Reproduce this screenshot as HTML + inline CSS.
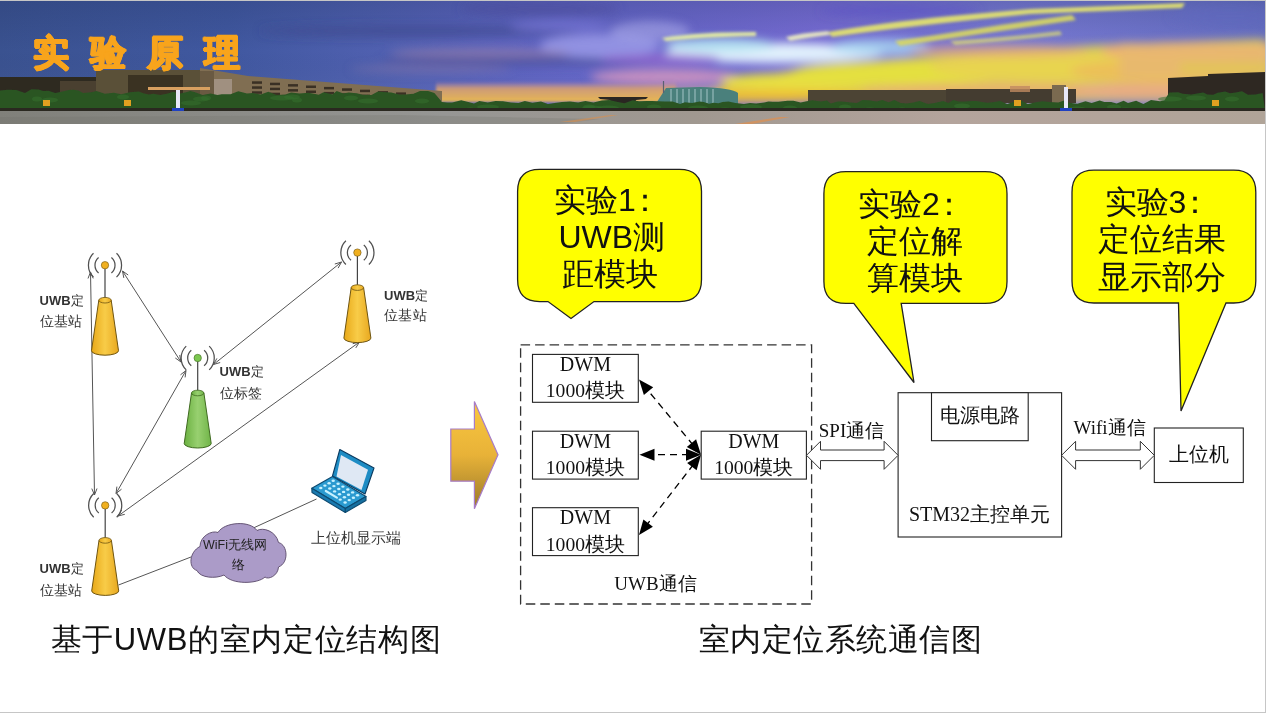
<!DOCTYPE html>
<html><head><meta charset="utf-8">
<style>
html,body{margin:0;padding:0;background:#c6c6c6;}
body{width:1266px;height:713px;overflow:hidden;position:relative;font-family:"Liberation Sans",sans-serif;}
#slide{position:absolute;left:0;top:1px;width:1265px;height:711px;background:#fff;overflow:hidden;}
.t{position:absolute;white-space:nowrap;line-height:1;}
</style></head><body>
<div id="slide">
<svg width="1265" height="123" style="position:absolute;left:0;top:0">
<defs>
<linearGradient id="sky" x1="0" y1="0" x2="1265" y2="0" gradientUnits="userSpaceOnUse">
<stop offset="0" stop-color="#3a5290"/>
<stop offset="0.18" stop-color="#4058a0"/>
<stop offset="0.3" stop-color="#5060b0"/>
<stop offset="0.45" stop-color="#6466c8"/>
<stop offset="0.65" stop-color="#7a6ed8"/>
<stop offset="0.8" stop-color="#7c7cd8"/>
<stop offset="1" stop-color="#6a72c8"/>
</linearGradient>
<linearGradient id="skyv" x1="0" y1="0" x2="0" y2="1">
<stop offset="0" stop-color="#203060" stop-opacity="0.25"/>
<stop offset="0.5" stop-color="#203060" stop-opacity="0"/>
<stop offset="1" stop-color="#8090c0" stop-opacity="0.15"/>
</linearGradient>
<filter id="bl" x="-30%" y="-100%" width="160%" height="300%"><feGaussianBlur stdDeviation="5"/></filter>
<filter id="bl2" x="-20%" y="-100%" width="140%" height="300%"><feGaussianBlur stdDeviation="1.8"/></filter>
<filter id="bl1" x="-5%" y="-50%" width="110%" height="200%"><feGaussianBlur stdDeviation="0.7"/></filter>
<linearGradient id="glow" x1="0" y1="0" x2="0" y2="1">
<stop offset="0" stop-color="#c890a8" stop-opacity="0"/>
<stop offset="0.35" stop-color="#d8a070" stop-opacity="0.9"/>
<stop offset="1" stop-color="#e8b850"/>
</linearGradient>
<linearGradient id="ground" x1="0" y1="0" x2="1265" y2="0" gradientUnits="userSpaceOnUse">
<stop offset="0" stop-color="#80807a"/>
<stop offset="0.35" stop-color="#969694"/>
<stop offset="0.55" stop-color="#a09890"/>
<stop offset="0.75" stop-color="#b4a49c"/>
<stop offset="1" stop-color="#b0a498"/>
</linearGradient>
</defs>
<rect x="0" y="0" width="1265" height="123" fill="url(#sky)"/>
<rect x="0" y="0" width="1265" height="100" fill="url(#skyv)"/>
<g filter="url(#bl)">
<!-- dark streaks -->
<ellipse cx="420" cy="30" rx="160" ry="5" fill="#40488e" opacity="0.7"/>
<ellipse cx="520" cy="60" rx="140" ry="5" fill="#484e98" opacity="0.7"/>
<ellipse cx="900" cy="10" rx="80" ry="5" fill="#5a50c8" opacity="0.6"/>
<ellipse cx="540" cy="8" rx="80" ry="7" fill="#4a4a9a" opacity="0.5"/>
<ellipse cx="1230" cy="15" rx="60" ry="10" fill="#6068c0" opacity="0.5"/>
<!-- lavender light streaks -->
<ellipse cx="600" cy="45" rx="60" ry="12" fill="#9c9ce8" opacity="0.8"/>
<ellipse cx="560" cy="25" rx="50" ry="6" fill="#7a78d8" opacity="0.6"/>
<ellipse cx="480" cy="52" rx="90" ry="5" fill="#9a80a8" opacity="0.6"/>
<ellipse cx="430" cy="68" rx="80" ry="4" fill="#8a78a8" opacity="0.5"/>
<ellipse cx="650" cy="30" rx="40" ry="10" fill="#a8a8e8" opacity="0.6"/>
<!-- light cyan band -->
<ellipse cx="775" cy="52" rx="110" ry="10" fill="#e0f0fc" opacity="1"/>
<ellipse cx="720" cy="44" rx="55" ry="7" fill="#b0e0f0" opacity="0.9"/>
<ellipse cx="880" cy="46" rx="50" ry="8" fill="#a8d8f0" opacity="0.8"/>
<!-- purple streaks -->
<ellipse cx="660" cy="58" rx="60" ry="5" fill="#9868d0" opacity="0.8"/>
<ellipse cx="665" cy="76" rx="75" ry="8" fill="#c890c0" opacity="0.95"/>
<!-- yellow sunset -->
<path d="M700,92 Q760,72 830,64 Q950,52 1100,44 Q1200,40 1265,38 L1265,100 L700,100 Z" fill="#e6d448" opacity="0.9"/>
<ellipse cx="800" cy="80" rx="80" ry="8" fill="#e8e040" opacity="1"/>
<ellipse cx="900" cy="72" rx="110" ry="12" fill="#e4e040" opacity="1"/>
<ellipse cx="1050" cy="66" rx="120" ry="14" fill="#e8d450" opacity="1"/>
<ellipse cx="1190" cy="50" rx="90" ry="9" fill="#f0a878" opacity="0.9"/>
<ellipse cx="1170" cy="70" rx="100" ry="12" fill="#ecc058" opacity="1"/>
<ellipse cx="1000" cy="50" rx="90" ry="6" fill="#e8a878" opacity="0.7"/>

<ellipse cx="760" cy="95" rx="120" ry="6" fill="#f0c030" opacity="1"/>
<ellipse cx="1000" cy="90" rx="140" ry="8" fill="#e8b070" opacity="0.9"/>
<ellipse cx="1150" cy="90" rx="80" ry="8" fill="#e8a888" opacity="0.9"/>
<rect x="1120" y="42" width="170" height="35" fill="#e8b870" opacity="0.9"/>
<rect x="1180" y="62" width="110" height="10" fill="#e0c850" opacity="0.8"/>
</g>
<g filter="url(#bl2)">
<path d="M662,37 Q700,31 756,31 L756,35 Q700,36 666,40 Z" fill="#e8f0a0" opacity="0.95"/>
<path d="M786,36 Q800,32 828,30 L830,34 Q805,37 790,40 Z" fill="#f0f0c0" opacity="0.9"/>
<path d="M828,31 Q880,22 950,15 L1030,8 L1185,2 L1182,7 L1030,13 Q900,26 832,36 Z" fill="#e0e070" opacity="0.95"/>
<path d="M895,40 Q950,32 1000,24 L1072,14 L1076,19 Q1000,30 900,45 Z" fill="#d8d860" opacity="0.9"/>
<path d="M950,40 Q1010,36 1060,30 L1062,34 Q1010,40 955,44 Z" fill="#e0e070" opacity="0.7"/>
</g>

<rect x="436" y="80" width="240" height="21" fill="url(#glow)" filter="url(#bl2)"/>
<path d="M0,76 L96,76 L96,108 L0,108 Z" fill="#2e2a20"/>
<path d="M60,80 L96,80 L96,96 L60,96 Z" fill="#4a4030"/>
<path d="M96,69 L200,69 L200,67 L248,75 L442,90 L442,100 L96,100 Z" fill="#806e52"/>
<rect x="96" y="69" width="104" height="28" fill="#5a5038"/>
<rect x="128" y="74" width="55" height="20" fill="#3a3222"/>
<rect x="210" y="78" width="22" height="18" fill="#a09080"/>
<rect x="200" y="70" width="14" height="28" fill="#6a5a42"/>
<rect x="252" y="80.3" width="10" height="2.5" fill="#3a3024"/>
<rect x="270" y="81.7" width="10" height="2.5" fill="#3a3024"/>
<rect x="288" y="83.1" width="10" height="2.5" fill="#3a3024"/>
<rect x="306" y="84.5" width="10" height="2.5" fill="#3a3024"/>
<rect x="324" y="85.9" width="10" height="2.5" fill="#3a3024"/>
<rect x="342" y="87.3" width="10" height="2.5" fill="#3a3024"/>
<rect x="360" y="88.7" width="10" height="2.5" fill="#3a3024"/>
<rect x="378" y="90.1" width="10" height="2.5" fill="#3a3024"/>
<rect x="396" y="91.4" width="10" height="2.5" fill="#3a3024"/>
<rect x="414" y="92.8" width="10" height="2.5" fill="#3a3024"/>
<rect x="252" y="85.3" width="10" height="2.5" fill="#3a3024"/>
<rect x="270" y="86.7" width="10" height="2.5" fill="#3a3024"/>
<rect x="288" y="88.1" width="10" height="2.5" fill="#3a3024"/>
<rect x="306" y="89.5" width="10" height="2.5" fill="#3a3024"/>
<rect x="324" y="90.9" width="10" height="2.5" fill="#3a3024"/>
<rect x="342" y="92.3" width="10" height="2.5" fill="#3a3024"/>
<rect x="360" y="93.7" width="10" height="2.5" fill="#3a3024"/>
<rect x="378" y="95.1" width="10" height="2.5" fill="#3a3024"/>
<rect x="396" y="96.4" width="10" height="2.5" fill="#3a3024"/>
<rect x="414" y="97.8" width="10" height="2.5" fill="#3a3024"/>
<rect x="252" y="90.3" width="10" height="2.5" fill="#3a3024"/>
<rect x="270" y="91.7" width="10" height="2.5" fill="#3a3024"/>
<rect x="288" y="93.1" width="10" height="2.5" fill="#3a3024"/>
<rect x="306" y="94.5" width="10" height="2.5" fill="#3a3024"/>
<rect x="324" y="95.9" width="10" height="2.5" fill="#3a3024"/>
<rect x="342" y="97.3" width="10" height="2.5" fill="#3a3024"/>
<rect x="360" y="98.7" width="10" height="2.5" fill="#3a3024"/>
<rect x="378" y="100.1" width="10" height="2.5" fill="#3a3024"/>
<rect x="396" y="101.4" width="10" height="2.5" fill="#3a3024"/>
<rect x="414" y="102.8" width="10" height="2.5" fill="#3a3024"/>
<path d="M598,96 L648,96 L646,98 L636,99 L634,106 L612,106 L610,99 L600,98 Z" fill="#2a2622"/>
<path d="M655,104 L666,87 L700,86 Q732,87 738,92 L738,104 Z" fill="#4a807c"/>
<rect x="670" y="88" width="2" height="14" fill="#8ab0b0" opacity="0.7"/>
<rect x="676" y="88" width="2" height="14" fill="#8ab0b0" opacity="0.7"/>
<rect x="682" y="88" width="2" height="14" fill="#8ab0b0" opacity="0.7"/>
<rect x="688" y="88" width="2" height="14" fill="#8ab0b0" opacity="0.7"/>
<rect x="694" y="88" width="2" height="14" fill="#8ab0b0" opacity="0.7"/>
<rect x="700" y="88" width="2" height="14" fill="#8ab0b0" opacity="0.7"/>
<rect x="706" y="88" width="2" height="14" fill="#8ab0b0" opacity="0.7"/>
<rect x="712" y="88" width="2" height="14" fill="#8ab0b0" opacity="0.7"/>
<line x1="663.5" y1="80" x2="663.5" y2="92" stroke="#5a6070" stroke-width="1.2"/>
<rect x="808" y="89" width="140" height="14" fill="#4c4434"/>
<rect x="946" y="88" width="130" height="14" fill="#443c30"/>
<rect x="1052" y="84" width="14" height="18" fill="#7a6a50"/>
<rect x="1010" y="85" width="20" height="6" fill="#c08a60" opacity="0.8"/>
<path d="M1168,77 L1208,75 L1208,73 L1265,71 L1265,108 L1168,108 Z" fill="#2e2822"/>
<path d="M0,109 L0.0,89.5 L7.7,88.8 L16.4,89.0 L25.0,91.9 L31.4,88.2 L38.6,88.4 L43.2,90.1 L48.4,89.8 L55.3,91.9 L60.4,90.9 L68.9,88.9 L73.7,88.8 L78.4,89.5 L83.1,92.0 L91.4,91.2 L96.5,90.1 L104.9,92.8 L113.7,91.8 L121.1,93.2 L129.8,91.2 L138.6,90.4 L144.1,92.6 L148.9,93.4 L153.2,92.8 L160.3,94.0 L167.7,92.6 L173.2,90.7 L179.6,92.7 L186.0,91.2 L190.3,90.1 L194.4,91.0 L202.6,93.9 L210.6,92.5 L217.5,94.0 L221.7,93.3 L230.5,93.2 L238.3,90.3 L247.0,92.6 L252.7,91.9 L260.6,93.6 L268.4,90.8 L276.7,93.9 L285.4,93.6 L291.1,91.6 L299.7,92.6 L308.3,91.8 L313.9,92.7 L318.7,93.7 L323.5,91.2 L332.5,93.4 L336.7,90.1 L343.4,92.4 L348.6,91.6 L356.7,92.2 L362.8,93.8 L371.4,93.9 L377.9,90.6 L382.5,91.1 L391.3,91.5 L399.2,93.6 L405.4,93.4 L413.6,92.8 L419.9,90.0 L428.1,90.1 L434.4,92.0 L442.0,101.1 L447.5,101.4 L452.2,101.5 L461.2,99.2 L468.3,101.0 L474.0,102.6 L479.4,99.9 L487.7,101.6 L495.6,99.9 L503.1,100.3 L510.9,101.5 L518.4,101.9 L524.9,99.9 L532.3,101.8 L541.0,100.4 L547.9,103.0 L554.7,102.0 L562.0,101.1 L570.1,100.4 L578.1,101.6 L585.3,100.0 L593.5,101.6 L601.7,99.5 L609.1,99.1 L617.9,100.9 L624.5,102.3 L632.7,99.3 L639.1,100.2 L646.7,100.1 L651.6,99.9 L658.5,100.3 L664.6,100.5 L672.5,100.5 L680.1,102.9 L684.9,101.2 L692.1,102.1 L699.5,100.5 L703.7,101.1 L708.9,102.8 L713.5,101.7 L718.5,102.2 L722.6,101.1 L728.5,100.6 L735.5,102.0 L744.0,103.0 L750.0,101.9 L756.1,102.5 L764.2,101.5 L768.4,100.5 L772.9,100.8 L778.6,100.7 L787.4,99.7 L793.5,99.7 L800.7,101.5 L805.4,100.6 L812.2,99.2 L821.1,100.6 L826.8,99.4 L830.8,102.6 L837.6,100.5 L842.3,100.5 L850.8,101.5 L857.0,102.1 L862.4,99.1 L868.3,99.2 L876.9,100.6 L882.2,99.1 L888.7,101.3 L894.3,99.1 L900.7,101.9 L907.1,102.5 L914.2,101.2 L919.7,99.9 L927.8,102.9 L934.5,101.9 L943.2,99.9 L948.4,101.9 L953.2,99.0 L958.6,100.6 L965.0,100.4 L972.0,100.0 L976.6,100.0 L982.1,100.9 L987.8,101.8 L994.4,101.1 L1000.2,100.0 L1007.2,102.9 L1012.5,101.2 L1021.0,99.4 L1027.8,102.9 L1035.7,101.3 L1042.5,100.2 L1049.7,101.1 L1058.3,101.5 L1064.2,99.6 L1069.2,101.8 L1077.4,102.7 L1085.5,100.2 L1091.7,101.9 L1099.6,99.4 L1104.3,101.1 L1111.1,101.0 L1116.7,102.4 L1123.6,99.8 L1128.0,102.1 L1136.1,99.8 L1143.4,102.9 L1151.0,99.1 L1160.0,100.2 L1164.3,99.6 L1169.3,91.4 L1178.1,91.2 L1182.8,92.8 L1191.4,93.4 L1198.4,92.3 L1203.2,91.5 L1207.4,93.6 L1213.3,93.7 L1217.6,91.7 L1225.3,90.5 L1230.0,92.3 L1235.6,91.6 L1242.0,90.2 L1247.9,93.8 L1255.4,93.4 L1262.6,92.0 L1265,109 Z" fill="#2a5424" filter="url(#bl1)"/>
<ellipse cx="702" cy="109" rx="7" ry="2.5" fill="#35702e" opacity="0.55" filter="url(#bl1)"/>
<ellipse cx="698" cy="107" rx="10" ry="2.5" fill="#35702e" opacity="0.55" filter="url(#bl1)"/>
<ellipse cx="654" cy="106" rx="7" ry="2.5" fill="#35702e" opacity="0.55" filter="url(#bl1)"/>
<ellipse cx="470" cy="109" rx="6" ry="2.5" fill="#35702e" opacity="0.55" filter="url(#bl1)"/>
<ellipse cx="902" cy="109" rx="6" ry="2.5" fill="#35702e" opacity="0.55" filter="url(#bl1)"/>
<ellipse cx="845" cy="106" rx="6" ry="2.5" fill="#35702e" opacity="0.55" filter="url(#bl1)"/>
<ellipse cx="751" cy="106" rx="11" ry="2.5" fill="#35702e" opacity="0.55" filter="url(#bl1)"/>
<ellipse cx="608" cy="107" rx="11" ry="2.5" fill="#35702e" opacity="0.55" filter="url(#bl1)"/>
<ellipse cx="37" cy="98" rx="5" ry="2.5" fill="#35702e" opacity="0.55" filter="url(#bl1)"/>
<ellipse cx="191" cy="102" rx="10" ry="2.5" fill="#35702e" opacity="0.55" filter="url(#bl1)"/>
<ellipse cx="282" cy="97" rx="12" ry="2.5" fill="#35702e" opacity="0.55" filter="url(#bl1)"/>
<ellipse cx="841" cy="110" rx="6" ry="2.5" fill="#35702e" opacity="0.55" filter="url(#bl1)"/>
<ellipse cx="790" cy="107" rx="7" ry="2.5" fill="#35702e" opacity="0.55" filter="url(#bl1)"/>
<ellipse cx="422" cy="100" rx="7" ry="2.5" fill="#35702e" opacity="0.55" filter="url(#bl1)"/>
<ellipse cx="488" cy="106" rx="11" ry="2.5" fill="#35702e" opacity="0.55" filter="url(#bl1)"/>
<ellipse cx="820" cy="110" rx="8" ry="2.5" fill="#35702e" opacity="0.55" filter="url(#bl1)"/>
<ellipse cx="1077" cy="108" rx="9" ry="2.5" fill="#35702e" opacity="0.55" filter="url(#bl1)"/>
<ellipse cx="725" cy="109" rx="8" ry="2.5" fill="#35702e" opacity="0.55" filter="url(#bl1)"/>
<ellipse cx="123" cy="96" rx="6" ry="2.5" fill="#35702e" opacity="0.55" filter="url(#bl1)"/>
<ellipse cx="50" cy="99" rx="8" ry="2.5" fill="#35702e" opacity="0.55" filter="url(#bl1)"/>
<ellipse cx="962" cy="105" rx="8" ry="2.5" fill="#35702e" opacity="0.55" filter="url(#bl1)"/>
<ellipse cx="1126" cy="109" rx="8" ry="2.5" fill="#35702e" opacity="0.55" filter="url(#bl1)"/>
<ellipse cx="589" cy="106" rx="6" ry="2.5" fill="#35702e" opacity="0.55" filter="url(#bl1)"/>
<ellipse cx="201" cy="98" rx="8" ry="2.5" fill="#35702e" opacity="0.55" filter="url(#bl1)"/>
<ellipse cx="1114" cy="106" rx="7" ry="2.5" fill="#35702e" opacity="0.55" filter="url(#bl1)"/>
<ellipse cx="351" cy="97" rx="7" ry="2.5" fill="#35702e" opacity="0.55" filter="url(#bl1)"/>
<ellipse cx="297" cy="99" rx="5" ry="2.5" fill="#35702e" opacity="0.55" filter="url(#bl1)"/>
<ellipse cx="1170" cy="98" rx="12" ry="2.5" fill="#35702e" opacity="0.55" filter="url(#bl1)"/>
<ellipse cx="870" cy="109" rx="8" ry="2.5" fill="#35702e" opacity="0.55" filter="url(#bl1)"/>
<ellipse cx="1196" cy="97" rx="10" ry="2.5" fill="#35702e" opacity="0.55" filter="url(#bl1)"/>
<ellipse cx="368" cy="100" rx="10" ry="2.5" fill="#35702e" opacity="0.55" filter="url(#bl1)"/>
<ellipse cx="206" cy="97" rx="5" ry="2.5" fill="#35702e" opacity="0.55" filter="url(#bl1)"/>
<ellipse cx="292" cy="96" rx="8" ry="2.5" fill="#35702e" opacity="0.55" filter="url(#bl1)"/>
<ellipse cx="1232" cy="98" rx="7" ry="2.5" fill="#35702e" opacity="0.55" filter="url(#bl1)"/>
<ellipse cx="592" cy="107" rx="10" ry="2.5" fill="#35702e" opacity="0.55" filter="url(#bl1)"/>
<rect x="0" y="107" width="1265" height="3" fill="#2a2820"/>
<rect x="0" y="110" width="1265" height="13" fill="url(#ground)"/>
<path d="M0,116 L400,114 L600,118 L560,123 L0,123 Z" fill="#707068" opacity="0.25" filter="url(#bl1)"/>
<path d="M735,123 L780,116 L790,116 L752,123 Z" fill="#e09050" opacity="0.7" filter="url(#bl1)"/>
<path d="M560,121 L610,114 L618,114 L575,121 Z" fill="#d89050" opacity="0.6" filter="url(#bl1)"/>
<rect x="176" y="88" width="4" height="19" fill="#e8e8f8"/><rect x="172" y="107" width="12" height="3" fill="#2040c0"/>
<rect x="148" y="86" width="62" height="3" fill="#d8a060"/>
<rect x="1064" y="86" width="4" height="21" fill="#e8e8f8"/><rect x="1060" y="107" width="12" height="3" fill="#2040c0"/>
<rect x="43" y="99" width="7" height="6" fill="#e0a020"/>
<rect x="124" y="99" width="7" height="6" fill="#e0a020"/>
<rect x="1014" y="99" width="7" height="6" fill="#e0a020"/>
<rect x="1212" y="99" width="7" height="6" fill="#e0a020"/>
</svg>
<div class="t" style="left:33px;top:34px;font-size:36px;font-weight:bold;color:#f8a41c;letter-spacing:21px;text-shadow:0.7px 0 #f8a41c,-0.7px 0 #f8a41c,0 0.7px #f8a41c,0 -0.7px #f8a41c,0.5px 0.5px #f8a41c,-0.5px -0.5px #f8a41c,0.5px -0.5px #f8a41c,-0.5px 0.5px #f8a41c">实验原理</div>
<svg width="1265" height="711" viewBox="0 1 1265 711" style="position:absolute;left:0;top:0">
<defs>
<linearGradient id="gy" x1="0" y1="0" x2="1" y2="0"><stop offset="0" stop-color="#e8a818"/><stop offset="0.5" stop-color="#f8cc48"/><stop offset="1" stop-color="#e8a820"/></linearGradient>
<linearGradient id="gg" x1="0" y1="0" x2="1" y2="0"><stop offset="0" stop-color="#6ab040"/><stop offset="0.5" stop-color="#98d070"/><stop offset="1" stop-color="#70b448"/></linearGradient>
<linearGradient id="garr" x1="0" y1="0" x2="0" y2="1"><stop offset="0" stop-color="#fac840"/><stop offset="0.5" stop-color="#e8b238"/><stop offset="1" stop-color="#9a7a2a"/></linearGradient>
</defs>
<line x1="90.5" y1="272" x2="94.5" y2="495" stroke="#555" stroke-width="1"/>
<path d="M88.0,278.5 L90.5,272 L93.2,278.4" fill="none" stroke="#555" stroke-width="1"/>
<path d="M97.0,488.5 L94.5,495 L91.8,488.6" fill="none" stroke="#555" stroke-width="1"/>
<line x1="122.5" y1="271" x2="181" y2="362" stroke="#555" stroke-width="1"/>
<path d="M123.8,277.9 L122.5,271 L128.2,275.0" fill="none" stroke="#555" stroke-width="1"/>
<path d="M179.7,355.1 L181,362 L175.3,358.0" fill="none" stroke="#555" stroke-width="1"/>
<line x1="213.5" y1="364.5" x2="341.5" y2="262" stroke="#555" stroke-width="1"/>
<path d="M220.2,362.5 L213.5,364.5 L216.9,358.4" fill="none" stroke="#555" stroke-width="1"/>
<path d="M334.8,264.0 L341.5,262 L338.1,268.1" fill="none" stroke="#555" stroke-width="1"/>
<line x1="186" y1="370.5" x2="116" y2="493.5" stroke="#555" stroke-width="1"/>
<path d="M180.5,374.8 L186,370.5 L185.1,377.4" fill="none" stroke="#555" stroke-width="1"/>
<path d="M121.5,489.2 L116,493.5 L116.9,486.6" fill="none" stroke="#555" stroke-width="1"/>
<line x1="359.5" y1="342" x2="118" y2="516" stroke="#555" stroke-width="1"/>
<path d="M352.7,343.7 L359.5,342 L355.8,347.9" fill="none" stroke="#555" stroke-width="1"/>
<path d="M124.8,514.3 L118,516 L121.7,510.1" fill="none" stroke="#555" stroke-width="1"/>
<line x1="118.5" y1="585" x2="191" y2="557" stroke="#555" stroke-width="1"/>
<line x1="249" y1="530" x2="316.5" y2="499" stroke="#555" stroke-width="1"/>
<path d="M98.6,257.5 A10,10 0 0 0 98.6,272.9 M111.4,257.5 A10,10 0 0 1 111.4,272.9" fill="none" stroke="#505050" stroke-width="1.25"/>
<path d="M93.5,253.3 A16.5,16.5 0 0 0 93.5,277.1 M116.5,253.3 A16.5,16.5 0 0 1 116.5,277.1" fill="none" stroke="#505050" stroke-width="1.25"/>
<line x1="105" y1="268.2" x2="105" y2="300.2" stroke="#444" stroke-width="1.2"/>
<path d="M98.8,300.2 L91.5,350.7 A13.5,4.5 0 0 0 118.5,350.7 L111.2,300.2 Z" fill="url(#gy)" stroke="#6e5410" stroke-width="1"/>
<ellipse cx="105" cy="300.2" rx="6.2" ry="2.8" fill="url(#gy)" stroke="#6e5410" stroke-width="0.8"/>
<circle cx="105" cy="265.2" r="3.7" fill="#f0b020" stroke="#6e5410" stroke-width="0.6"/>
<path d="M351.0,244.9 A10,10 0 0 0 351.0,260.3 M363.8,244.9 A10,10 0 0 1 363.8,260.3" fill="none" stroke="#505050" stroke-width="1.25"/>
<path d="M345.9,240.7 A16.5,16.5 0 0 0 345.9,264.5 M368.9,240.7 A16.5,16.5 0 0 1 368.9,264.5" fill="none" stroke="#505050" stroke-width="1.25"/>
<line x1="357.4" y1="255.6" x2="357.4" y2="287.6" stroke="#444" stroke-width="1.2"/>
<path d="M351.2,287.6 L343.9,338.1 A13.5,4.5 0 0 0 370.9,338.1 L363.59999999999997,287.6 Z" fill="url(#gy)" stroke="#6e5410" stroke-width="1"/>
<ellipse cx="357.4" cy="287.6" rx="6.2" ry="2.8" fill="url(#gy)" stroke="#6e5410" stroke-width="0.8"/>
<circle cx="357.4" cy="252.6" r="3.7" fill="#f0b020" stroke="#6e5410" stroke-width="0.6"/>
<path d="M191.3,350.3 A10,10 0 0 0 191.3,365.7 M204.1,350.3 A10,10 0 0 1 204.1,365.7" fill="none" stroke="#505050" stroke-width="1.25"/>
<path d="M186.2,346.1 A16.5,16.5 0 0 0 186.2,369.9 M209.2,346.1 A16.5,16.5 0 0 1 209.2,369.9" fill="none" stroke="#505050" stroke-width="1.25"/>
<line x1="197.7" y1="361" x2="197.7" y2="393" stroke="#444" stroke-width="1.2"/>
<path d="M191.5,393 L184.2,443.5 A13.5,4.5 0 0 0 211.2,443.5 L203.89999999999998,393 Z" fill="url(#gg)" stroke="#3f6a20" stroke-width="1"/>
<ellipse cx="197.7" cy="393" rx="6.2" ry="2.8" fill="url(#gg)" stroke="#3f6a20" stroke-width="0.8"/>
<circle cx="197.7" cy="358" r="3.7" fill="#7cc850" stroke="#3f6a20" stroke-width="0.6"/>
<path d="M98.8,497.7 A10,10 0 0 0 98.8,513.1 M111.6,497.7 A10,10 0 0 1 111.6,513.1" fill="none" stroke="#505050" stroke-width="1.25"/>
<path d="M93.7,493.5 A16.5,16.5 0 0 0 93.7,517.3 M116.7,493.5 A16.5,16.5 0 0 1 116.7,517.3" fill="none" stroke="#505050" stroke-width="1.25"/>
<line x1="105.2" y1="508.4" x2="105.2" y2="540.4" stroke="#444" stroke-width="1.2"/>
<path d="M99.0,540.4 L91.7,590.9 A13.5,4.5 0 0 0 118.7,590.9 L111.4,540.4 Z" fill="url(#gy)" stroke="#6e5410" stroke-width="1"/>
<ellipse cx="105.2" cy="540.4" rx="6.2" ry="2.8" fill="url(#gy)" stroke="#6e5410" stroke-width="0.8"/>
<circle cx="105.2" cy="505.4" r="3.7" fill="#f0b020" stroke="#6e5410" stroke-width="0.6"/>
<path d="M197,570.5 C188,568 189,552 200,546.5 C200,536 212,530 218,532.5 C224,522 250,520 257,530.5 C263,527 276,531 278.5,542.5 C288,545 289,563 278.5,567 C278,576 268,580 265,577 C258,584 232,585 224,575 C216,579 200,578 197,570.5 Z" fill="#ab9bc8" stroke="#5a4a6a" stroke-width="0.9"/>
<g stroke="#0d4a70" stroke-width="1.1" stroke-linejoin="round">
<path d="M339.8,449.5 L374,468 L365,494 L332.5,476 Z" fill="#1e8cc4" stroke="#0a3a60"/>
<path d="M341,455 L368,469.7 L361.5,490 L336.5,476.5 Z" fill="#dfe8f4" stroke="none"/>
<path d="M311.8,488.3 L332.5,476.5 L366,496.5 L345.3,508.5 Z" fill="#2a9ad0"/>
<path d="M311.8,488.3 L345.3,508.5 L345.3,512.5 L312,492.5 Z" fill="#1a7ab0"/>
<path d="M345.3,508.5 L366,496.5 L366,500.5 L345.3,512.5 Z" fill="#1670a0"/>
</g>
<ellipse cx="333.2" cy="480.8" rx="1.7" ry="1.2" fill="#c8f2ff"/>
<ellipse cx="338.1" cy="483.7" rx="1.7" ry="1.2" fill="#c8f2ff"/>
<ellipse cx="342.9" cy="486.6" rx="1.7" ry="1.2" fill="#c8f2ff"/>
<ellipse cx="347.8" cy="489.5" rx="1.7" ry="1.2" fill="#c8f2ff"/>
<ellipse cx="352.6" cy="492.4" rx="1.7" ry="1.2" fill="#c8f2ff"/>
<ellipse cx="357.5" cy="495.3" rx="1.7" ry="1.2" fill="#c8f2ff"/>
<ellipse cx="329.1" cy="483.2" rx="1.7" ry="1.2" fill="#c8f2ff"/>
<ellipse cx="333.9" cy="486.1" rx="1.7" ry="1.2" fill="#c8f2ff"/>
<ellipse cx="338.8" cy="489.0" rx="1.7" ry="1.2" fill="#c8f2ff"/>
<ellipse cx="343.6" cy="491.9" rx="1.7" ry="1.2" fill="#c8f2ff"/>
<ellipse cx="348.5" cy="494.8" rx="1.7" ry="1.2" fill="#c8f2ff"/>
<ellipse cx="353.4" cy="497.7" rx="1.7" ry="1.2" fill="#c8f2ff"/>
<ellipse cx="324.9" cy="485.6" rx="1.7" ry="1.2" fill="#c8f2ff"/>
<ellipse cx="329.8" cy="488.5" rx="1.7" ry="1.2" fill="#c8f2ff"/>
<ellipse cx="334.6" cy="491.4" rx="1.7" ry="1.2" fill="#c8f2ff"/>
<ellipse cx="339.5" cy="494.3" rx="1.7" ry="1.2" fill="#c8f2ff"/>
<ellipse cx="344.4" cy="497.2" rx="1.7" ry="1.2" fill="#c8f2ff"/>
<ellipse cx="349.2" cy="500.1" rx="1.7" ry="1.2" fill="#c8f2ff"/>
<ellipse cx="320.8" cy="488.0" rx="1.7" ry="1.2" fill="#c8f2ff"/>
<ellipse cx="340.2" cy="499.6" rx="1.7" ry="1.2" fill="#c8f2ff"/>
<ellipse cx="345.1" cy="502.5" rx="1.7" ry="1.2" fill="#c8f2ff"/>
<line x1="325.8" y1="491.0" x2="336.9" y2="497.6" stroke="#c8f2ff" stroke-width="2.2" stroke-linecap="round"/>
<text x="39.5" y="304.5" font-family="Liberation Sans, sans-serif" font-size="13" fill="#333"><tspan font-weight="bold">UWB</tspan>定</text><text x="39.5" y="326" font-family="Liberation Sans, sans-serif" font-size="14.2" fill="#333" letter-spacing="0.4">位基站</text>
<text x="384" y="299.5" font-family="Liberation Sans, sans-serif" font-size="13" fill="#333"><tspan font-weight="bold">UWB</tspan>定</text><text x="384" y="320" font-family="Liberation Sans, sans-serif" font-size="14.2" fill="#333" letter-spacing="0.4">位基站</text>
<text x="219.5" y="375.5" font-family="Liberation Sans, sans-serif" font-size="13" fill="#333"><tspan font-weight="bold">UWB</tspan>定</text><text x="219.5" y="398" font-family="Liberation Sans, sans-serif" font-size="14.2" fill="#333" letter-spacing="0.4">位标签</text>
<text x="39.5" y="572.5" font-family="Liberation Sans, sans-serif" font-size="13" fill="#333"><tspan font-weight="bold">UWB</tspan>定</text><text x="39.5" y="595" font-family="Liberation Sans, sans-serif" font-size="14.2" fill="#333" letter-spacing="0.4">位基站</text>
<text x="311" y="542.5" font-family="Liberation Sans, sans-serif" font-size="15" fill="#3a3a3a">上位机显示端</text>
<text x="203" y="549" font-family="Liberation Sans, sans-serif" font-size="12.5" fill="#222">WiFi无线网</text><text x="232" y="569" font-family="Liberation Sans, sans-serif" font-size="12.5" fill="#222">络</text>
<path d="M450.8,429 L474.4,429 L474.4,401.6 L498,454.7 L474.4,508.7 L474.4,481.2 L450.8,481.2 Z" fill="url(#garr)" stroke="#a77cc8" stroke-width="1.2"/>
<rect x="520.6" y="344.8" width="291" height="259.2" fill="none" stroke="#333" stroke-width="1.3" stroke-dasharray="9.5,5"/>
<rect x="532.5" y="354.4" width="105.8" height="47.9" fill="#fff" stroke="#222" stroke-width="1.1"/>
<text x="585.4" y="370.9" font-family="Liberation Serif, serif" font-size="20" text-anchor="middle" fill="#111">DWM</text>
<text x="585.4" y="397.2" font-family="Liberation Serif, serif" font-size="19.6" text-anchor="middle" fill="#111">1000模块</text>
<rect x="532.5" y="431.2" width="105.8" height="47.9" fill="#fff" stroke="#222" stroke-width="1.1"/>
<text x="585.4" y="447.7" font-family="Liberation Serif, serif" font-size="20" text-anchor="middle" fill="#111">DWM</text>
<text x="585.4" y="474.0" font-family="Liberation Serif, serif" font-size="19.6" text-anchor="middle" fill="#111">1000模块</text>
<rect x="532.5" y="507.7" width="105.8" height="47.9" fill="#fff" stroke="#222" stroke-width="1.1"/>
<text x="585.4" y="524.2" font-family="Liberation Serif, serif" font-size="20" text-anchor="middle" fill="#111">DWM</text>
<text x="585.4" y="550.5" font-family="Liberation Serif, serif" font-size="19.6" text-anchor="middle" fill="#111">1000模块</text>
<rect x="701.2" y="431.2" width="105.2" height="47.9" fill="#fff" stroke="#222" stroke-width="1.1"/>
<text x="753.8000000000001" y="447.7" font-family="Liberation Serif, serif" font-size="20" text-anchor="middle" fill="#111">DWM</text>
<text x="753.8000000000001" y="474.0" font-family="Liberation Serif, serif" font-size="19.6" text-anchor="middle" fill="#111">1000模块</text>
<line x1="693.4" y1="445.4" x2="646.6" y2="388.8" stroke="#000" stroke-width="1.3" stroke-dasharray="7,5"/>
<path d="M701.0,454.7 L696.1,439.3 L686.8,446.9 Z" fill="#000"/>
<path d="M639.0,379.5 L643.9,394.9 L653.2,387.3 Z" fill="#000"/>
<line x1="689.0" y1="454.7" x2="651.5" y2="454.7" stroke="#000" stroke-width="1.3" stroke-dasharray="7,5"/>
<path d="M701.0,454.7 L686.0,448.7 L686.0,460.7 Z" fill="#000"/>
<path d="M639.5,454.7 L654.5,460.7 L654.5,448.7 Z" fill="#000"/>
<line x1="693.7" y1="464.2" x2="646.3" y2="525.5" stroke="#000" stroke-width="1.3" stroke-dasharray="7,5"/>
<path d="M701.0,454.7 L687.1,462.9 L696.6,470.2 Z" fill="#000"/>
<path d="M639.0,535.0 L652.9,526.8 L643.4,519.5 Z" fill="#000"/>
<text x="655.5" y="590" font-family="Liberation Serif, serif" font-size="19" text-anchor="middle" fill="#111">UWB通信</text>
<rect x="898.1" y="392.7" width="163.5" height="144.3" fill="#fff" stroke="#222" stroke-width="1.1"/>
<rect x="931.5" y="392.7" width="96.7" height="48" fill="#fff" stroke="#222" stroke-width="1.1"/>
<text x="979.8" y="422" font-family="Liberation Serif, serif" font-size="20" text-anchor="middle" fill="#111">电源电路</text>
<text x="979.5" y="521" font-family="Liberation Serif, serif" font-size="20" text-anchor="middle" fill="#111">STM32主控单元</text>
<rect x="1154.3" y="428" width="89" height="54.5" fill="#fff" stroke="#222" stroke-width="1.1"/>
<text x="1198.5" y="461" font-family="Liberation Serif, serif" font-size="20" text-anchor="middle" fill="#111">上位机</text>
<path d="M806.5,455.3 L820.5,441.3 L820.5,450.0 L884.1,450.0 L884.1,441.3 L898.1,455.3 L884.1,469.3 L884.1,460.6 L820.5,460.6 L820.5,469.3 Z" fill="#fff" stroke="#333" stroke-width="1"/>
<path d="M1061.6,455.3 L1075.6,441.3 L1075.6,450.0 L1140.3,450.0 L1140.3,441.3 L1154.3,455.3 L1140.3,469.3 L1140.3,460.6 L1075.6,460.6 L1075.6,469.3 Z" fill="#fff" stroke="#333" stroke-width="1"/>
<text x="851.5" y="437" font-family="Liberation Serif, serif" font-size="19" text-anchor="middle" fill="#111">SPI通信</text>
<text x="1109.5" y="434" font-family="Liberation Serif, serif" font-size="19" text-anchor="middle" fill="#111">Wifi通信</text>
<path d="M539.6,169.3 L679.5,169.3 Q701.5,169.3 701.5,191.3 L701.5,279.6 Q701.5,301.6 679.5,301.6 L594,301.6 L571,318.5 L548,301.6 L539.6,301.6 Q517.6,301.6 517.6,279.6 L517.6,191.3 Q517.6,169.3 539.6,169.3 Z" fill="#ffff00" stroke="#222" stroke-width="1.3"/>
<path d="M845.9,171.7 L985,171.7 Q1007,171.7 1007,193.7 L1007,281.4 Q1007,303.4 985,303.4 L901.2,303.4 L914,382.5 L853.8,303.4 L845.9,303.4 Q823.9,303.4 823.9,281.4 L823.9,193.7 Q823.9,171.7 845.9,171.7 Z" fill="#ffff00" stroke="#222" stroke-width="1.3"/>
<path d="M1094,170.2 L1233.8,170.2 Q1255.8,170.2 1255.8,192.2 L1255.8,281 Q1255.8,303 1233.8,303 L1226,303 L1181,411 L1178.5,303 L1094,303 Q1072,303 1072,281 L1072,192.2 Q1072,170.2 1094,170.2 Z" fill="#ffff00" stroke="#222" stroke-width="1.3"/>
<text x="554" y="211" font-family="Liberation Sans, sans-serif" font-size="32" fill="#111">实验1<tspan dx="-7">：</tspan></text><text x="611.8" y="247.5" font-family="Liberation Sans, sans-serif" font-size="32" fill="#111" text-anchor="middle">UWB测</text><text x="610" y="285" font-family="Liberation Sans, sans-serif" font-size="32" fill="#111" text-anchor="middle">距模块</text>
<text x="858" y="214.5" font-family="Liberation Sans, sans-serif" font-size="32" fill="#111">实验2<tspan dx="-7">：</tspan></text><text x="914.7" y="251.5" font-family="Liberation Sans, sans-serif" font-size="32" fill="#111" text-anchor="middle">定位解</text><text x="914.7" y="289" font-family="Liberation Sans, sans-serif" font-size="32" fill="#111" text-anchor="middle">算模块</text>
<text x="1104.5" y="212.5" font-family="Liberation Sans, sans-serif" font-size="32" fill="#111">实验3<tspan dx="-7">：</tspan></text><text x="1162" y="250" font-family="Liberation Sans, sans-serif" font-size="32" fill="#111" text-anchor="middle">定位结果</text><text x="1162" y="288" font-family="Liberation Sans, sans-serif" font-size="32" fill="#111" text-anchor="middle">显示部分</text>
<text x="50.5" y="649.5" font-family="Liberation Sans, sans-serif" font-size="31" letter-spacing="0.65" fill="#111">基于UWB的室内定位结构图</text>
<text x="698.5" y="649.5" font-family="Liberation Serif, serif" font-size="31" letter-spacing="0.5" fill="#111">室内定位系统通信图</text>
</svg>
</div>
</body></html>
